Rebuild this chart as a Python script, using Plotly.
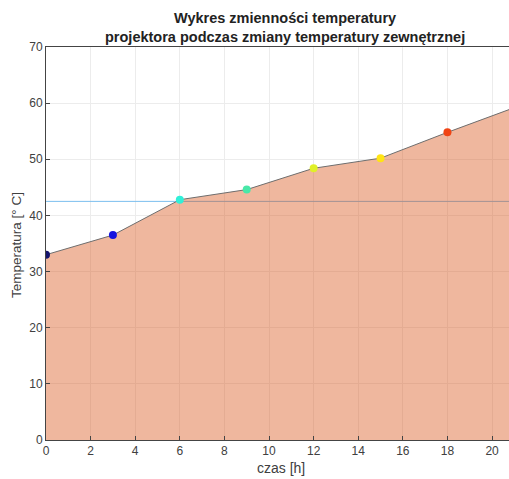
import plotly.graph_objects as go

czas = [0, 3, 6, 9, 12, 15, 18, 21]
temperatura = [33.0, 36.5, 42.8, 44.6, 48.4, 50.2, 54.8, 59.2]
punkty_x = [0, 3, 6, 9, 12, 15, 18]
punkty_y = [33.0, 36.5, 42.8, 44.6, 48.4, 50.2, 54.8]
kolory = ["#14146e", "#1414e0", "#30f0d8", "#48e8a8", "#e0f028", "#ffe414", "#f04414"]
prog = 42.5
x_ticks = [0, 2, 4, 6, 8, 10, 12, 14, 16, 18, 20]
y_ticks = [0, 10, 20, 30, 40, 50, 60, 70]
tytul = ["Wykres zmienności temperatury", "projektora podczas zmiany temperatury zewnętrznej"]

FONT = "Liberation Sans, Arial"
fig = go.Figure()
fig.add_trace(go.Scatter(x=[0, 21], y=[prog, prog], mode="lines",
                         line=dict(color="#7cbfee", width=1), hoverinfo="skip", showlegend=False))
fig.add_trace(go.Scatter(x=czas, y=temperatura, mode="lines", fill="tozeroy",
                         fillcolor="rgba(217,83,25,0.42)",
                         line=dict(color="#6e6e6e", width=1), showlegend=False))
fig.add_trace(go.Scatter(x=punkty_x, y=punkty_y, mode="markers",
                         marker=dict(color=kolory, size=8), showlegend=False))

axis_common = dict(showgrid=True, gridcolor="#ececec", gridwidth=1,
                   showline=True, linecolor="#444444", linewidth=1,
                   ticks="inside", ticklen=4, tickcolor="#444444",
                   tickfont=dict(family=FONT, size=12, color="#404040"),
                   zeroline=False, automargin=False)

FIG_W, FIG_H = 509, 479
ML, MT, MB = 46, 47, 39
H = FIG_H - MT - MB
W = FIG_W - ML
def py(px):
    return (FIG_H - MB - px) / H
def pxx(px):
    return (px - ML) / W

annotations = [
    dict(text="<b>" + tytul[0] + "</b>", x=pxx(285), y=py(18), xref="paper", yref="paper",
         xanchor="center", yanchor="middle", showarrow=False,
         font=dict(family=FONT, size=14.5, color="#222222")),
    dict(text="<b>" + tytul[1] + "</b>", x=pxx(285), y=py(37), xref="paper", yref="paper",
         xanchor="center", yanchor="middle", showarrow=False,
         font=dict(family=FONT, size=14.5, color="#222222")),
    dict(text="czas [h]", x=pxx(281), y=py(468), xref="paper", yref="paper",
         xanchor="center", yanchor="middle", showarrow=False,
         font=dict(family=FONT, size=14, color="#404040")),
    dict(text="Temperatura [° C]", x=pxx(17), y=py(245), xref="paper", yref="paper",
         xanchor="center", yanchor="middle", showarrow=False, textangle=-90,
         font=dict(family=FONT, size=13.5, color="#404040")),
]

fig.update_layout(
    width=FIG_W, height=FIG_H,
    margin=dict(l=ML, r=0, t=MT, b=MB, autoexpand=False),
    plot_bgcolor="white", paper_bgcolor="white",
    xaxis=dict(range=[0, 20.76], tickvals=x_ticks, mirror=True, **axis_common),
    yaxis=dict(range=[0, 70], tickvals=y_ticks, mirror=False, **axis_common),
    annotations=annotations,
)

fig.write_html("out.html", config={"displayModeBar": False},
               post_script="document.body.style.margin='0px';")
